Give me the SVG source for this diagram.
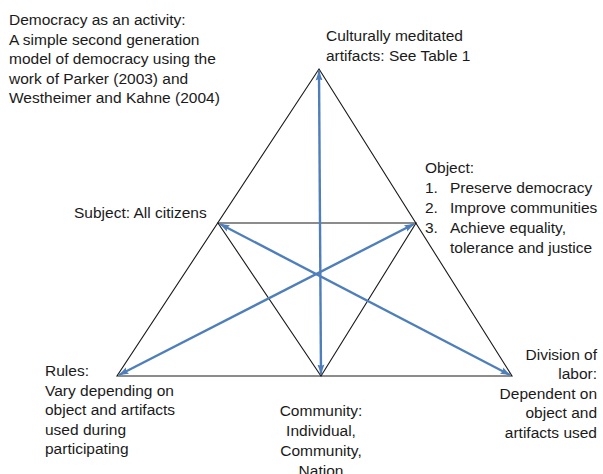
<svg xmlns="http://www.w3.org/2000/svg" width="603" height="474" viewBox="0 0 603 474">
  <style>
    text { font-family: "Liberation Sans", Arial, sans-serif; font-size: 15.5px; fill: #1a1a1a; }
    .edge { stroke: #1a1a1a; stroke-width: 1.1; fill: none; }
    .rel { stroke: #4f7fba; stroke-width: 2.4; fill: none; marker-start: url(#arrow); marker-end: url(#arrow); }
    .mid { text-anchor: middle; }
    .end { text-anchor: end; }
  </style>
  <defs>
    <marker id="arrow" markerUnits="userSpaceOnUse" markerWidth="10" markerHeight="8" refX="9.5" refY="4" orient="auto-start-reverse">
      <path d="M0,0.5 L9.5,4 L0,7.5 L1.5,4 z" fill="#4f7fba"/>
    </marker>
  </defs>
  <rect width="603" height="474" fill="#ffffff"/>

  <g id="connectors">
    <polygon class="edge" points="319,69 117,376 512,376"/>
    <polygon class="edge" points="218,223 416,223 321,376"/>
    <line class="rel" x1="319" y1="71" x2="321" y2="374"/>
    <line class="rel" x1="220" y1="224" x2="510" y2="375"/>
    <line class="rel" x1="119" y1="375" x2="414" y2="224"/>
  </g>

  <g id="title">
    <text x="9" y="25">Democracy as an activity:</text>
    <text x="9" y="45">A simple second generation</text>
    <text x="9" y="64">model of democracy using the</text>
    <text x="9" y="84">work of Parker (2003) and</text>
    <text x="9" y="103">Westheimer and Kahne (2004)</text>
  </g>

  <g id="artifacts">
    <text x="326" y="41">Culturally meditated</text>
    <text x="326" y="61">artifacts: See Table 1</text>
  </g>

  <g id="subject">
    <text x="74" y="218">Subject: All citizens</text>
  </g>

  <g id="object">
    <text x="425" y="173">Object:</text>
    <text x="425" y="193">1.</text><text x="450" y="193">Preserve democracy</text>
    <text x="425" y="213">2.</text><text x="450" y="213">Improve communities</text>
    <text x="425" y="233">3.</text><text x="450" y="233">Achieve equality,</text>
    <text x="450" y="253">tolerance and justice</text>
  </g>

  <g id="rules">
    <text x="45" y="376">Rules:</text>
    <text x="45" y="396">Vary depending on</text>
    <text x="45" y="415">object and artifacts</text>
    <text x="45" y="435">used during</text>
    <text x="45" y="454">participating</text>
  </g>

  <g id="community">
    <text class="mid" x="321" y="416">Community:</text>
    <text class="mid" x="321" y="436">Individual,</text>
    <text class="mid" x="321" y="456">Community,</text>
    <text class="mid" x="321" y="476">Nation</text>
  </g>

  <g id="division">
    <text class="end" x="597" y="360">Division of</text>
    <text class="end" x="597" y="379">labor:</text>
    <text class="end" x="597" y="399">Dependent on</text>
    <text class="end" x="597" y="418">object and</text>
    <text class="end" x="597" y="438">artifacts used</text>
  </g>
</svg>
